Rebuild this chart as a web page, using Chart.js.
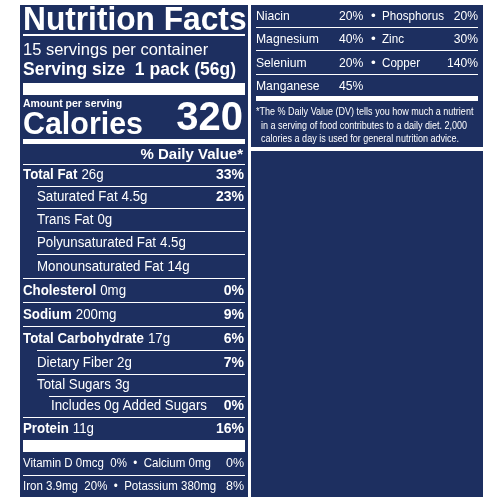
<!DOCTYPE html>
<html>
<head>
<meta charset="utf-8">
<script src="https://cdn.jsdelivr.net/npm/chart.js@4"></script>
<style>
  html, body { margin: 0; padding: 0; background: #fff; }
  #label { width: 500px; height: 500px; }
</style>
</head>
<body>
<div id="label"><canvas id="chartLabel"></canvas></div>
<script>
// label content
var nutrients = ['Total Fat', 'Saturated Fat', 'Trans Fat', 'Polyunsaturated Fat', 'Monounsaturated Fat',
  'Cholesterol', 'Sodium', 'Total Carbohydrate', 'Dietary Fiber', 'Total Sugars', 'Includes 0g Added Sugars', 'Protein'];
var amounts = ['26g', '4.5g', '0g', '4.5g', '14g', '0mg', '200mg', '17g', '2g', '3g', '', '11g'];
var dailyValues = ['33%', '23%', '', '', '', '0%', '9%', '6%', '7%', '', '0%', '16%'];
var bold = [true, false, false, false, false, true, true, true, false, false, false, true];
var indent = [0, 1, 1, 1, 1, 0, 0, 0, 1, 1, 2, 0];
var rowY = [175, 197, 220, 243, 267, 291, 315, 339, 363, 385, 406, 429];

var minerals = [['Niacin', '20%', 'Phosphorus', '20%'], ['Magnesium', '40%', 'Zinc', '30%'],
  ['Selenium', '20%', 'Copper', '140%'], ['Manganese', '45%', '', '']];
var mineralY = [16, 39, 63, 86];
var footnote = ['*The % Daily Value (DV) tells you how much a nutrient',
  'in a serving of food contributes to a daily diet. 2,000',
  'calories a day is used for general nutrition advice.'];

var NAVY = '#1d2f60';
var FONT = '"Liberation Sans", Arial, sans-serif';

var labelPlugin = {
  id: 'labelPlugin',
  afterDraw: function(chart) {
    var ctx = chart.ctx, sx = chart.scales.x, sy = chart.scales.y;
    function X(v) { return sx.getPixelForValue(v); }
    function Y(v) { return sy.getPixelForValue(v); }
    function rect(x0, y0, x1, y1, c) { ctx.fillStyle = c; ctx.fillRect(X(x0), Y(y0), X(x1) - X(x0), Y(y1) - Y(y0)); }
    function text(s, x, y, size, weight, align, cond) {
      ctx.font = (weight || '') + ' ' + size + 'px ' + FONT;
      ctx.textAlign = align || 'left';
      ctx.textBaseline = 'middle';
      ctx.fillStyle = '#fff';
      ctx.save();
      ctx.translate(X(x), Y(y));
      ctx.scale(cond || 1, 1);
      ctx.fillText(s, 0, 0);
      ctx.restore();
    }
    ctx.save();
    rect(17, 2, 486, 499, '#fff');
    rect(20, 5, 248, 497, NAVY);
    rect(251, 5, 483, 147, NAVY);
    rect(251, 151, 483, 497, NAVY);

    // left header
    text('Nutrition Facts', 23, 21, 33, 'bold', 'left', 0.96);
    rect(23, 34, 245, 36, '#fff');
    text('15 servings per container', 23, 50, 16.5);
    text('Serving size  1 pack (56g)', 23, 70, 17.5, 'bold');
    rect(23, 83, 245, 95, '#fff');
    text('Amount per serving', 23, 104, 10.5, 'bold');
    text('Calories', 23, 125, 32, 'bold', 'left', 0.95);
    text('320', 243, 119, 40, 'bold', 'right');
    rect(23, 139, 245, 144, '#fff');
    text('% Daily Value*', 243, 155, 15, 'bold', 'right');
    rect(23, 164, 245, 165, '#fff');

    for (var i = 0; i < nutrients.length; i++) {
      var x = 23 + indent[i] * 14;
      ctx.font = (bold[i] ? 'bold ' : '') + '14px ' + FONT;
      text(nutrients[i], x, rowY[i], 14, bold[i] ? 'bold' : '', 'left', 0.95);
      var w = ctx.measureText(nutrients[i]).width * 0.95;
      if (amounts[i]) text(amounts[i], x + w / (X(1) - X(0)) + 4, rowY[i], 14, '', 'left', 0.95);
      if (dailyValues[i]) text(dailyValues[i], 244, rowY[i], 14, 'bold', 'right');
      if (i < nutrients.length - 1) {
        var lx = 23 + indent[i + 1] * 14;
        if (indent[i + 1] === 2) lx = 49;
        rect(lx, rowY[i] + 11, 245, rowY[i] + 12, '#fff');
      }
    }
    rect(23, 440, 245, 452, '#fff');
    text('Vitamin D 0mcg  0%  \u2022  Calcium 0mg', 23, 464, 12.5, '', 'left', 0.92);
    text('0%', 244, 464, 12.5, '', 'right');
    rect(23, 475, 245, 476, '#fff');
    text('Iron 3.9mg  20%  \u2022  Potassium 380mg', 23, 487, 12.5, '', 'left', 0.92);
    text('8%', 244, 487, 12.5, '', 'right');

    // right panel
    for (var j = 0; j < minerals.length; j++) {
      var m = minerals[j], y = mineralY[j];
      text(m[0], 256, y, 13.5, '', 'left', 0.9);
      text(m[1], 339, y, 13.5, '', 'left', 0.9);
      if (m[2]) {
        text('\u2022', 371, y, 13.5);
        text(m[2], 382, y, 13.5, '', 'left', 0.86);
        text(m[3], 478, y, 13.5, '', 'right', 0.9);
      }
      if (j < minerals.length - 1) rect(256, y + 11, 478, y + 12, '#fff');
    }
    rect(256, 96, 478, 101, '#fff');
    text(footnote[0], 256, 112, 11, '', 'left', 0.82);
    text(footnote[1], 261, 126, 11, '', 'left', 0.82);
    text(footnote[2], 261, 139, 11, '', 'left', 0.82);
    ctx.restore();
  }
};

new Chart(document.getElementById('chartLabel'), {
  type: 'scatter',
  data: { datasets: [{ data: [] }] },
  options: {
    responsive: true,
    maintainAspectRatio: false,
    animation: false,
    layout: { padding: 0 },
    plugins: { legend: { display: false }, tooltip: { enabled: false } },
    scales: {
      x: { type: 'linear', min: 0, max: 500, display: false },
      y: { type: 'linear', min: 0, max: 500, reverse: true, display: false }
    }
  },
  plugins: [labelPlugin]
});
</script>
</body>
</html>
